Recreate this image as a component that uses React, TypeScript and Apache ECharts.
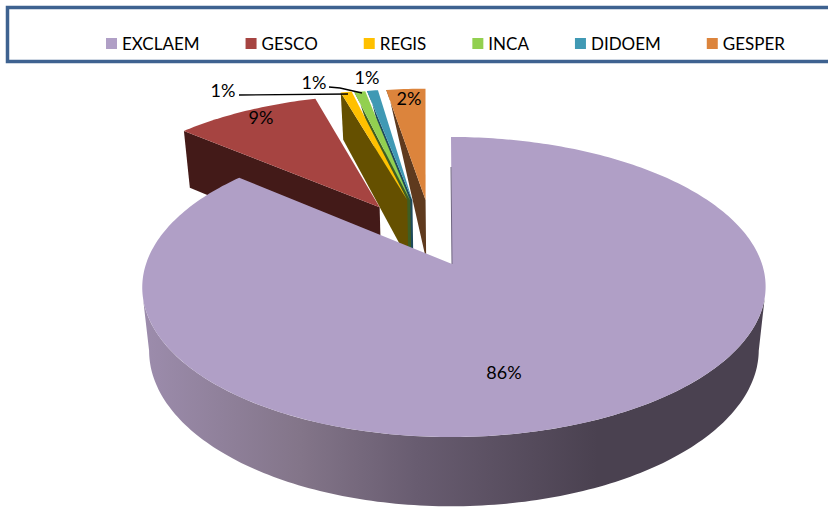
import React, { useEffect, useRef } from "react";
import * as echarts from "echarts";

const categories = ["EXCLAEM", "GESCO", "REGIS", "INCA", "DIDOEM", "GESPER"];
const values = [86.21, 9.2, 0.7, 0.7, 0.7, 2.49];
const topColors = ["#b09fc6", "#a64441", "#ffc000", "#92d050", "#4099b4", "#dc843c"];
const wallColors = ["#4a4150", "#431a18", "#655000", "#3e5e22", "#1e4a5c", "#5f3a1e"];
const wallTaper = [1, 1, 0.85, 0, 0, 0];
const labelAt: number[][] = [[504, 372], [261, 117], [223, 90], [314, 82], [367, 77], [409, 98]];
const leaders: number[][][] = [[], [], [[239, 95], [348, 94]], [[329, 87], [340, 88], [362, 93]], [], []];
const nudge: number[][] = [[0, 0], [-7, 3], [0, 0], [0, 1], [-1, 1], [1, 1]];
const apexShift: number[][] = [[0, 0], [0, 0], [0, 0], [0, 0], [0, 0], [4, 0]];

const FAMILY = "Lato, sans-serif";
const total = values.reduce((a, b) => a + b, 0);
const persp = -0.1533;
const scaleV = 146.5;
const scaleU = 308;
const center = [-0.09, -0.2265];
const explode = 0.25;

function project(u: number, v: number) {
  const d = 1 + persp * v;
  return [452 + (scaleU * u) / d, 264 + (scaleV * v) / d];
}
function lower(p: number[], taper = 1) {
  return [454 + (p[0] - 454) * 0.978, p[1] + (55 + 0.04 * (p[1] - 81)) * taper];
}

function sliceRange(i: number) {
  const before = values.slice(0, i).reduce((a, b) => a + b, 0);
  return [(before / total) * 360, ((before + values[i]) / total) * 360];
}
function rad(d: number) {
  return (d * Math.PI) / 180;
}

function buildSlice(i: number, value: number) {
  const [start, end] = sliceRange(i);
  const mid = rad((start + end) / 2);
  const apexUV =
    i === 0 ? [0, 0] : [center[0] + explode * Math.sin(mid), center[1] - explode * Math.cos(mid)];
  const rim = (deg: number) => {
    const p = project(apexUV[0] + Math.sin(rad(deg)), apexUV[1] - Math.cos(rad(deg)));
    const dx = i === 0 ? 3 * Math.sin(rad(deg)) ** 2 - 1 : nudge[i][0];
    return [p[0] + dx, p[1] + nudge[i][1]];
  };
  const apexRaw = project(apexUV[0], apexUV[1]);
  const apex = [
    apexRaw[0] + nudge[i][0] + apexShift[i][0],
    apexRaw[1] + nudge[i][1] + apexShift[i][1],
  ];
  const arc: number[][] = [];
  const steps = Math.max(4, Math.ceil(end - start));
  for (let s = 0; s <= steps; s++) arc.push(rim(start + ((end - start) * s) / steps));

  const children: any[] = [];
  if (i === 0) {
    const band: number[][] = [];
    const back: number[][] = [];
    for (let d = 103; d <= 257; d += 1) band.push(rim(d));
    for (let d = 261; d >= 99; d -= 1) back.push(lower(rim(d)));
    children.push({
      type: "polygon",
      shape: { points: band.concat(back) },
      style: {
        fill: new echarts.graphic.LinearGradient(
          145,
          0,
          765,
          0,
          [
            { offset: 0, color: "#9c8cac" },
            { offset: 0.25, color: "#837589" },
            { offset: 0.44, color: "#685c70" },
            { offset: 0.73, color: "#4a4150" },
            { offset: 1, color: "#4a4150" },
          ],
          true
        ),
      },
    });
    children.push({
      type: "polygon",
      shape: { points: [...arc, apex] },
      style: { fill: topColors[i] },
    });
    children.push({
      type: "polyline",
      shape: { points: [apex, [451, 167]] },
      style: { stroke: "#6f6580", lineWidth: 1, fill: "none" },
    });
  } else {
    const outer = arc[0];
    children.push({
      type: "polygon",
      shape: { points: [outer, apex, lower(apex), lower(outer, wallTaper[i])] },
      style: { fill: wallColors[i] },
    });
    children.push({
      type: "polygon",
      shape: { points: [apex, ...arc] },
      style: { fill: topColors[i] },
    });
  }
  if (leaders[i].length) {
    children.push({
      type: "polyline",
      shape: { points: leaders[i] },
      style: { stroke: "#000", lineWidth: 1.4, fill: "none" },
    });
  }
  children.push({
    type: "text",
    style: {
      text: `${Math.round((value / total) * 100)}%`,
      x: labelAt[i][0],
      y: labelAt[i][1],
      font: `18px ${FAMILY}`,
      fill: "#000",
      textAlign: "center",
      textVerticalAlign: "middle",
    },
  });
  return { type: "group", children };
}

export default function App() {
  const ref = useRef<HTMLDivElement>(null);
  useEffect(() => {
    document.body.style.margin = "0";
    const chart = echarts.init(ref.current!, undefined, { renderer: "svg" });
    chart.setOption({
      animation: false,
      backgroundColor: "#fff",
      legend: {
        data: categories,
        left: 106,
        top: 35,
        padding: 0,
        icon: "rect",
        itemWidth: 11,
        itemHeight: 11,
        itemGap: 46,
        selectedMode: false,
        textStyle: { fontFamily: FAMILY, fontSize: 17, color: "#000" },
      },
      graphic: [
        {
          type: "rect",
          shape: { x: 7.5, y: 7.5, width: 900, height: 54 },
          style: { fill: "none", stroke: "#3e6290", lineWidth: 3.5 },
        },
      ],
      series: categories.map((name, i) => ({
        type: "custom",
        name,
        coordinateSystem: "none",
        z: i === 0 ? 10 : 8 - i,
        itemStyle: { color: topColors[i] },
        data: [[values[i]]],
        renderItem: (_p: any, api: any) => buildSlice(i, api.value(0)),
      })),
    });
    return () => chart.dispose();
  }, []);
  return <div ref={ref} style={{ width: 828, height: 507, position: "fixed", left: 0, top: 0 }} />;
}
